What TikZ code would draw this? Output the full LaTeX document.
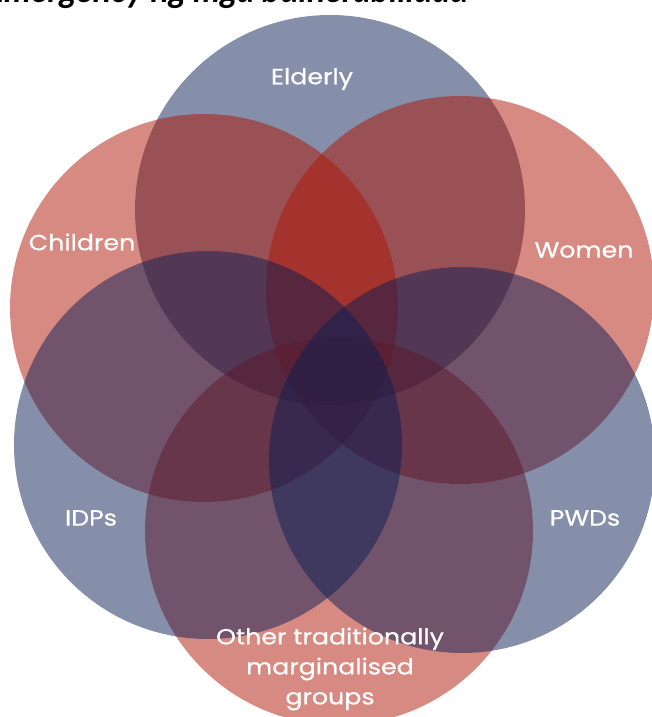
\documentclass[tikz,border=0pt]{standalone}
\usepackage{fontspec}
\setmainfont{Poppins}
\newfontfamily\lblfont[FakeBold=0.6,FakeStretch=1.15]{Poppins}
\newfontfamily\titlefont{Lato}
\definecolor{vred}{RGB}{175,21,5}
\definecolor{vblue}{RGB}{13,31,85}
\begin{document}
\begin{tikzpicture}[x=1pt,y=-1pt,
  redc/.style={fill=vred,fill opacity=0.5,draw=none},
  bluec/.style={fill=vblue,fill opacity=0.5,draw=none},
  lbl/.style={text=white,font=\lblfont\fontsize{22}{30}\selectfont,align=center,inner sep=0pt}]
\useasboundingbox (0,0) rectangle (651,717);
\node[anchor=base west,inner sep=0pt,font=\titlefont\fontsize{34}{36}\selectfont\bfseries\itshape] (title) at (-14,3) {Emergency ng mga bulnerabilidad};
\fill[bluec] (330,210) circle (195);
\fill[redc] (204,308) circle (194);
\fill[redc] (460,290) circle (194);
\fill[redc] (339,531) circle (194);
\fill[bluec] (208,445) circle (194);
\fill[bluec] (462,460) circle (193);
\node[lbl] (elderly) at (312,79) {Elderly};
\node[lbl] (children) at (82,242) {Children};
\node[lbl] (women) at (584,250) {Women};
\node[lbl] (idps) at (91,518) {IDPs};
\node[lbl] (pwds) at (585,518) {PWDs};
\node[lbl] (other) at (330,669) {Other traditionally\\marginalised\\groups};
\end{tikzpicture}
\end{document}
